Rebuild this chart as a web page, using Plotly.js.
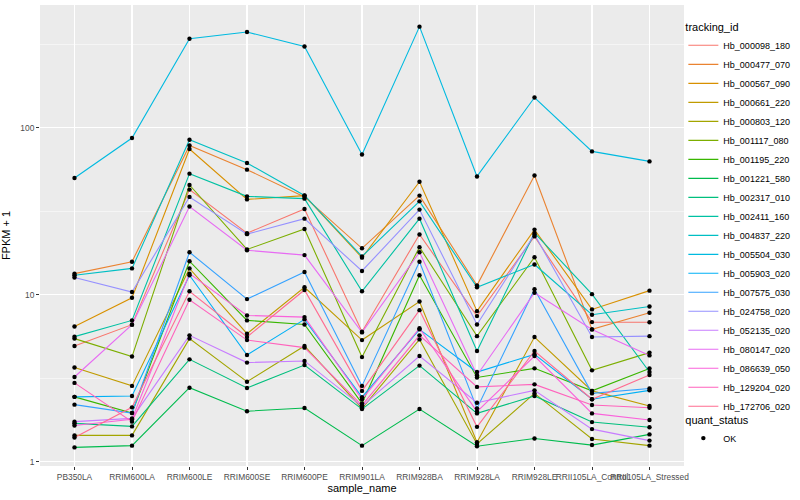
<!DOCTYPE html>
<html>
<head>
<meta charset="utf-8">
<script src="https://cdn.plot.ly/plotly-3.0.1.min.js"></script>
<style>html,body{margin:0;padding:0;background:#fff;}#chart{width:800px;height:500px;}</style>
</head>
<body>
<div id="chart"></div>
<script>
const categories = ['PB350LA','RRIM600LA','RRIM600LE','RRIM600SE','RRIM600PE','RRIM901LA','RRIM928BA','RRIM928LA','RRIM928LE','RRII105LA_Control','RRII105LA_Stressed'];

const trackingIds = ['Hb_000098_180','Hb_000477_070','Hb_000567_090','Hb_000661_220','Hb_000803_120','Hb_001117_080','Hb_001195_220','Hb_001221_580','Hb_002317_010','Hb_002411_160','Hb_004837_220','Hb_005504_030','Hb_005903_020','Hb_007575_030','Hb_024758_020','Hb_052135_020','Hb_080147_020','Hb_086639_050','Hb_129204_020','Hb_172706_020'];

const colors = ['#F8766D','#EA8331','#D89000','#C09B00','#A3A500','#7CAE00','#39B600','#00BB4E','#00BF7D','#00C1A3','#00BFC4','#00BAE0','#00B0F6','#35A2FF','#9590FF','#C77CFF','#E76BF3','#FA62DB','#FF62BC','#FF6C91'];

// FPKM + 1 values, one array per tracking_id, in category order
const Hb_000098_180 = [4.94, 6.63, 42.7, 23.4, 32.7, 6.02, 23.0, 7.46, 22.4, 6.87, 6.85];
const Hb_000477_070 = [13.4, 15.8, 78.5, 56.2, 38.6, 19.0, 39.3, 11.4, 51.9, 6.21, 7.82];
const Hb_000567_090 = [6.47, 9.61, 74.7, 37.3, 39.3, 16.7, 47.6, 7.99, 24.6, 8.18, 10.6];
const Hb_000661_220 = [3.67, 2.85, 14.4, 5.85, 11.1, 5.36, 9.13, 1.31, 5.59, 2.66, 2.16];
const Hb_000803_120 = [1.44, 1.44, 5.47, 3.02, 4.94, 2.09, 5.41, 1.28, 2.57, 1.37, 1.25];
const Hb_001117_080 = [5.47, 4.27, 45.5, 18.7, 24.8, 4.24, 19.3, 5.66, 16.8, 3.53, 4.51];
const Hb_001195_220 = [2.45, 1.96, 15.9, 7.03, 6.65, 2.24, 13.1, 3.20, 3.63, 2.66, 3.62];
const Hb_001221_580 = [1.22, 1.25, 2.78, 2.01, 2.10, 1.25, 2.07, 1.24, 1.38, 1.26, 1.46];
const Hb_002317_010 = [1.70, 1.63, 4.11, 2.77, 3.80, 2.07, 3.77, 1.95, 2.48, 1.73, 1.61];
const Hb_002411_160 = [5.62, 7.03, 53.2, 38.9, 37.7, 10.5, 28.6, 4.61, 23.5, 10.1, 3.45];
const Hb_004837_220 = [13.1, 14.4, 84.9, 61.6, 39.4, 17.0, 36.3, 11.1, 15.2, 7.60, 8.52];
const Hb_005504_030 = [50.1, 86.9, 342, 375, 307, 69.3, 404, 51.2, 152, 72.3, 63.0];
const Hb_005903_020 = [2.45, 2.48, 13.1, 4.36, 7.13, 2.44, 6.21, 3.45, 4.40, 2.37, 2.68];
const Hb_007575_030 = [2.20, 1.96, 18.0, 9.43, 13.7, 2.85, 15.8, 2.09, 10.8, 2.57, 2.75];
const Hb_024758_020 = [12.7, 10.4, 38.6, 23.1, 28.6, 13.9, 32.4, 6.65, 23.0, 5.59, 5.66];
const Hb_052135_020 = [1.74, 1.82, 5.72, 3.93, 4.02, 2.15, 4.30, 2.26, 2.68, 1.57, 1.34];
const Hb_080147_020 = [3.22, 6.63, 33.8, 18.5, 17.3, 5.96, 18.0, 3.30, 10.3, 6.21, 4.34];
const Hb_086639_050 = [1.65, 1.80, 13.4, 7.53, 7.36, 2.37, 6.32, 2.00, 4.30, 1.95, 1.78];
const Hb_129204_020 = [2.97, 1.74, 9.35, 5.36, 4.83, 2.18, 5.72, 2.81, 2.91, 2.19, 2.11];
const Hb_172706_020 = [1.40, 2.12, 10.5, 5.59, 10.7, 2.66, 8.10, 1.62, 4.61, 2.37, 3.31];

const seriesValues = [Hb_000098_180, Hb_000477_070, Hb_000567_090, Hb_000661_220, Hb_000803_120, Hb_001117_080, Hb_001195_220, Hb_001221_580, Hb_002317_010, Hb_002411_160, Hb_004837_220, Hb_005504_030, Hb_005903_020, Hb_007575_030, Hb_024758_020, Hb_052135_020, Hb_080147_020, Hb_086639_050, Hb_129204_020, Hb_172706_020];

const yTickVals = [1, 10, 100];
const yTickText = ['1', '10', '100'];
const yMinorVals = [Math.sqrt(10), Math.sqrt(1000), Math.sqrt(100000)];

const FONT = '"Liberation Sans", Arial, Helvetica, sans-serif';

const traces = [];
trackingIds.forEach((id, i) => {
  traces.push({
    type: 'scatter', mode: 'lines', name: id,
    x: categories, y: seriesValues[i],
    line: {color: colors[i], width: 1.1},
    legend: 'legend',
    hoverinfo: 'skip'
  });
});
// points (quant_status = OK)
const allX = [], allY = [];
seriesValues.forEach(vals => vals.forEach((v, j) => { allX.push(categories[j]); allY.push(v); }));
traces.push({
  type: 'scatter', mode: 'markers', name: 'OK',
  x: allX, y: allY,
  marker: {color: '#000000', size: 4.4, symbol: 'circle'},
  legend: 'legend2'
});

const layout = {
  width: 800, height: 500,
  margin: {l: 40, r: 116, t: 5, b: 34, autoexpand: false},
  paper_bgcolor: '#ffffff',
  plot_bgcolor: '#EBEBEB',
  font: {family: FONT, size: 9, color: '#000'},
  xaxis: {
    type: 'category',
    categoryorder: 'array', categoryarray: categories,
    range: [-0.6, 10.6],
    showgrid: true, gridcolor: '#FFFFFF', gridwidth: 1.1,
    zeroline: false, showline: false,
    ticks: 'outside', ticklen: 3, tickwidth: 1, tickcolor: '#333333',
    tickfont: {family: FONT, size: 8.4, color: '#4D4D4D'},
    tickangle: 0,
    title: {text: 'sample_name', font: {family: FONT, size: 11, color: '#000'}, standoff: 3}
  },
  yaxis: {
    type: 'log',
    range: [-0.025, 2.736],
    tickvals: yTickVals, ticktext: yTickText,
    showgrid: true, gridcolor: '#FFFFFF', gridwidth: 1.1,
    minor: {tickvals: yMinorVals, showgrid: true, gridcolor: '#FFFFFF', gridwidth: 0.5, ticks: ''},
    zeroline: false, showline: false,
    ticks: 'outside', ticklen: 3, tickwidth: 1, tickcolor: '#333333',
    tickfont: {family: FONT, size: 8.4, color: '#4D4D4D'},
    title: {text: 'FPKM + 1', font: {family: FONT, size: 11, color: '#000'}, standoff: 8}
  },
  legend: {
    x: 0.999, xanchor: 'left', y: 0.975, yanchor: 'top',
    title: {text: 'tracking_id', font: {family: FONT, size: 11, color: '#000'}},
    font: {family: FONT, size: 9, color: '#000'},
    bgcolor: 'rgba(0,0,0,0)', tracegroupgap: 0, itemwidth: 30
  },
  legend2: {
    x: 0.999, xanchor: 'left', y: 0.123, yanchor: 'top',
    title: {text: 'quant_status', font: {family: FONT, size: 11, color: '#000'}},
    font: {family: FONT, size: 9, color: '#000'},
    bgcolor: 'rgba(0,0,0,0)', itemwidth: 30
  },
  showlegend: true
};

Plotly.newPlot('chart', traces, layout, {displayModeBar: false, staticPlot: true});
</script>
</body>
</html>
